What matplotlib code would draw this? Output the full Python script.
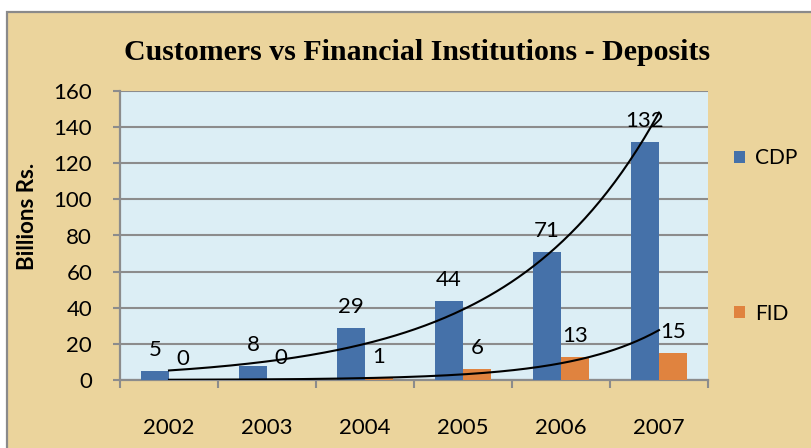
import numpy as np
import matplotlib
matplotlib.use("Agg")
import matplotlib.pyplot as plt
from matplotlib.patches import Rectangle

# data
years = ["2002", "2003", "2004", "2005", "2006", "2007"]
cdp = [5, 8, 29, 44, 71, 132]
fid = [0.1, 0.3, 1, 6, 13, 15]
y_ticks = [0, 20, 40, 60, 80, 100, 120, 140, 160]

blue = "#4571A9"
orange = "#E0833F"
grid_grey = "#8C8C8C"
parchment = "#EBD49C"


def exp_trend(values, xs):
    """Exponential trendline (least squares on log values), like Excel."""
    idx = np.arange(1, len(values) + 1)
    b, a = np.polyfit(idx, np.log(values), 1)
    return np.exp(a + b * (xs + 1))


def main():
    plt.rcParams["font.family"] = ["Lato", "DejaVu Sans"]
    fig = plt.figure(figsize=(8.11, 4.48), dpi=100)
    fig.patch.set_facecolor("white")

    # chart area with the parchment fill and grey frame
    frame = Rectangle((7 / 811, -0.1), 1.2, 1 - 12 / 448 + 0.1,
                      transform=fig.transFigure, facecolor=parchment,
                      edgecolor="#8A8A8A", linewidth=1.6, zorder=-5)
    fig.add_artist(frame)

    ax = fig.add_axes([120 / 811, 1 - 380 / 448, 588 / 811, 289 / 448])
    ax.set_facecolor("#DCEEF5")

    x = np.arange(len(years))
    w = 0.286
    b1 = ax.bar(x - w / 2, cdp, w, color=blue, label="CDP", zorder=3)
    b2 = ax.bar(x + w / 2, fid, w, color=orange, label="FID", zorder=3)

    xs = np.linspace(0, len(years) - 1, 200)
    ax.plot(xs, exp_trend(cdp, xs), color="black", lw=1.5, zorder=4)
    ax.plot(xs, exp_trend(fid, xs), color="black", lw=1.5, zorder=4)

    for xi, v in zip(x, cdp):
        ax.annotate("{:.0f}".format(v), (xi - w / 2, v), xytext=(0, 10.8),
                    textcoords="offset points", ha="center", va="baseline",
                    fontsize=16, zorder=5)
    for xi, v in zip(x, fid):
        ax.annotate("{:.0f}".format(v), (xi + w / 2, v), xytext=(0, 10.8),
                    textcoords="offset points", ha="center", va="baseline",
                    fontsize=16, zorder=5)

    ax.set_xlim(-0.5, len(years) - 0.5)
    ax.set_ylim(0, 160)
    ax.set_yticks(y_ticks)
    ax.set_yticklabels([str(t) for t in y_ticks])
    ax.yaxis.grid(True, color=grid_grey, lw=1.5, zorder=1)
    ax.set_axisbelow(True)
    ax.tick_params(axis="y", length=5, width=1.5, color=grid_grey,
                   pad=15, labelsize=16)

    ax.set_xticks(x)
    ax.set_xticklabels(years)
    ax.set_xticks(np.arange(len(years) + 1) - 0.5, minor=True)
    ax.tick_params(axis="x", which="major", length=0, pad=27, labelsize=16)
    ax.tick_params(axis="x", which="minor", length=6, width=1.5,
                   color=grid_grey)

    for side in ["top", "right"]:
        ax.spines[side].set_visible(False)
    for side in ["left", "bottom"]:
        ax.spines[side].set_color(grid_grey)
        ax.spines[side].set_linewidth(1.6)

    ax.set_ylabel("Billions Rs.", fontsize=16, fontweight="bold")
    ax.yaxis.set_label_coords(-0.139, 0.567)

    fig.text(417 / 811, 1 - 52 / 448,
             "Customers vs Financial Institutions - Deposits",
             ha="center", va="center", fontsize=21.5, fontweight="bold",
             family=["Liberation Serif", "DejaVu Serif"])

    ax.legend(handles=[b1, b2], loc="center left",
              bbox_to_anchor=(724 / 811, 1 - 236 / 448),
              bbox_transform=fig.transFigure, frameon=False, fontsize=15,
              handlelength=0.5, handleheight=0.5, handletextpad=0.5,
              labelspacing=6.5, borderpad=0)

    fig.savefig("out.png", dpi=100)


if __name__ == "__main__":
    main()
